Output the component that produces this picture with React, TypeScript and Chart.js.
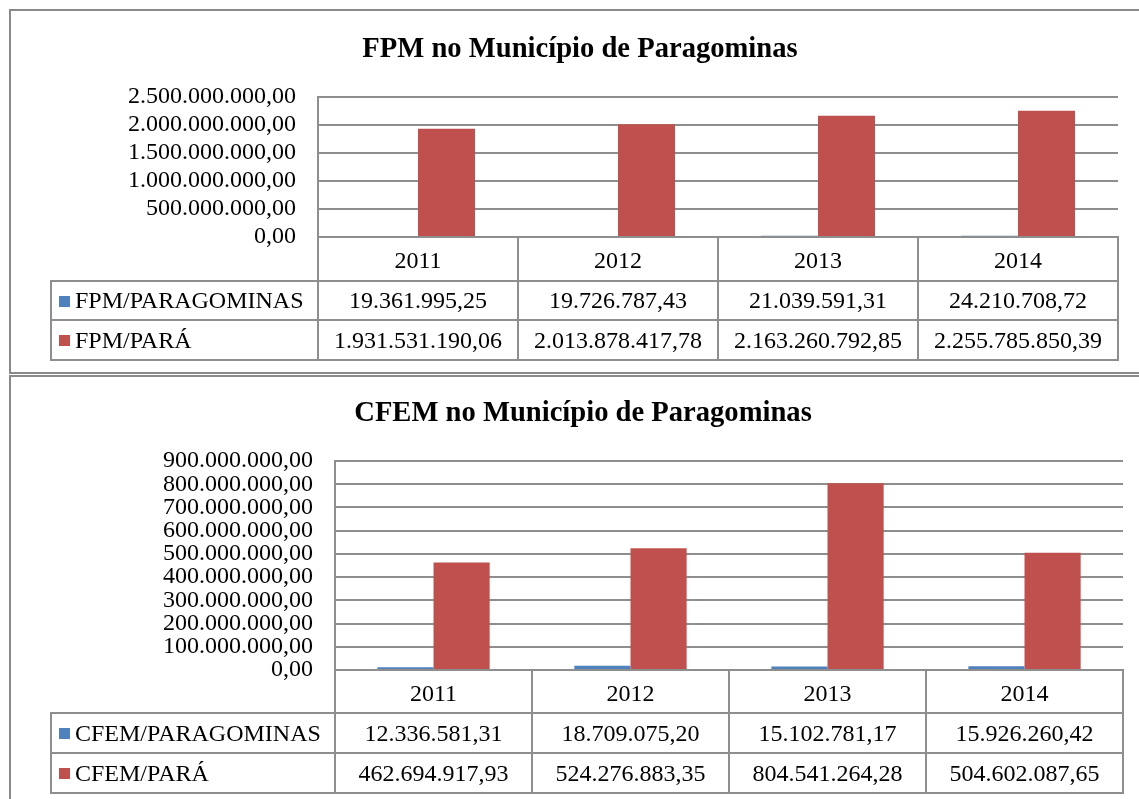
import React, { useEffect, useRef } from 'react';
import { Chart, registerables } from 'chart.js';

Chart.register(...registerables);

// ---------- DATA ----------
const YEARS = ['2011', '2012', '2013', '2014'];

const FPM_TITLE = 'FPM no Município de Paragominas';
const FPM_SERIES = ['FPM/PARAGOMINAS', 'FPM/PARÁ'];
const FPM_PARAGOMINAS = [19361995.25, 19726787.43, 21039591.31, 24210708.72];
const FPM_PARA = [1931531190.06, 2013878417.78, 2163260792.85, 2255785850.39];
const FPM_Y_MAX = 2500000000;
const FPM_Y_STEP = 500000000;

const CFEM_TITLE = 'CFEM no Município de Paragominas';
const CFEM_SERIES = ['CFEM/PARAGOMINAS', 'CFEM/PARÁ'];
const CFEM_PARAGOMINAS = [12336581.31, 18709075.2, 15102781.17, 15926260.42];
const CFEM_PARA = [462694917.93, 524276883.35, 804541264.28, 504602087.65];
const CFEM_Y_MAX = 900000000;
const CFEM_Y_STEP = 100000000;

const SERIES_COLORS = ['#4F81BD', '#C0504D'];

// ---------- STYLE ----------
const FONT = "'Liberation Serif', 'Times New Roman', serif";
const LINE = '#8e8e8e';

function fmtBR(n: number): string {
  const [i, d] = Math.abs(n).toFixed(2).split('.');
  const int = i.replace(/\B(?=(\d{3})+(?!\d))/g, '.');
  return (n < 0 ? '-' : '') + int + ',' + d;
}

const tablePlugin = {
  id: 'dataTable',
  afterDraw(chart: any, _args: any, opts: any) {
    const { ctx, chartArea } = chart;
    const x = chart.scales.x;
    const labels: string[] = chart.data.labels;
    const n = labels.length;
    const left = x.left;
    const right = x.right;
    const colW = (right - left) / n;
    const top = chartArea.bottom;
    const r1 = top + opts.headerH;
    const r2 = r1 + opts.rowH[0];
    const bot = r2 + opts.rowH[1];
    const lgLeft = opts.legendLeft;

    const line = (x1: number, y1: number, x2: number, y2: number) => {
      ctx.beginPath();
      ctx.moveTo(Math.round(x1), Math.round(y1));
      ctx.lineTo(Math.round(x2), Math.round(y2));
      ctx.stroke();
    };

    ctx.save();
    ctx.strokeStyle = LINE;
    ctx.lineWidth = 2;
    ctx.lineCap = 'square';
    line(left, top, right, top);
    line(lgLeft, r1, right, r1);
    line(lgLeft, r2, right, r2);
    line(lgLeft, bot, right, bot);
    for (let i = 0; i <= n; i++) {
      const xx = left + i * colW;
      line(xx, top, xx, bot);
    }
    line(lgLeft, r1, lgLeft, bot);

    ctx.fillStyle = '#000';
    ctx.font = `24px ${FONT}`;
    ctx.textBaseline = 'alphabetic';
    ctx.textAlign = 'center';
    for (let i = 0; i < n; i++) {
      ctx.fillText(labels[i], left + (i + 0.5) * colW, top + opts.headerH / 2 + 9);
    }
    const rowTops = [r1, r2];
    chart.data.datasets.forEach((ds: any, d: number) => {
      const cy = rowTops[d] + opts.rowH[d] / 2;
      ctx.textAlign = 'center';
      ctx.fillStyle = '#000';
      for (let i = 0; i < n; i++) {
        ctx.fillText(fmtBR(ds.data[i]), left + (i + 0.5) * colW, cy + 7.5);
      }
      ctx.fillStyle = ds.backgroundColor;
      ctx.fillRect(lgLeft + 8, Math.round(cy - 5), 11, 11);
      ctx.fillStyle = '#000';
      ctx.textAlign = 'left';
      ctx.fillText(ds.label, lgLeft + 24, cy + 7.5);
    });
    ctx.restore();
  },
};

type BlockProps = {
  title: string;
  series: string[];
  values: number[][];
  yMax: number;
  yStep: number;
  width: number;
  height: number;
  titleCenterX: number;
  plotLeft: number;
  plotRight: number;
  plotBottom: number;
  titlePadTop: number;
  titlePadBottom: number;
  headerH: number;
  rowH: number[];
  legendLeft: number;
};

function ChartBlock(p: BlockProps) {
  const ref = useRef<HTMLCanvasElement | null>(null);
  useEffect(() => {
    if (!ref.current) return;
    const padRight = p.width - p.plotRight;
    const padLeft = 2 * p.titleCenterX - p.plotRight;
    const chart = new Chart(ref.current, {
      type: 'bar',
      data: {
        labels: YEARS,
        datasets: p.series.map((s, i) => ({
          label: s,
          data: p.values[i],
          backgroundColor: SERIES_COLORS[i],
          borderWidth: 0,
          categoryPercentage: 0.57,
          barPercentage: 1.0,
        })),
      },
      plugins: [tablePlugin],
      options: {
        responsive: false,
        animation: false,
        devicePixelRatio: 1,
        layout: { padding: { left: padLeft, top: 0, bottom: 0, right: padRight } },
        plugins: {
          legend: { display: false },
          tooltip: { enabled: false },
          title: {
            display: true,
            text: p.title,
            color: '#000',
            font: { family: FONT, size: 28.6, weight: 'bold', lineHeight: 1.2 },
            padding: { top: p.titlePadTop, bottom: p.titlePadBottom },
          },
          dataTable: { headerH: p.headerH, rowH: p.rowH, legendLeft: p.legendLeft },
        } as any,
        scales: {
          x: {
            type: 'category',
            offset: true,
            grid: { display: false },
            border: { display: false },
            ticks: { display: false },
            afterFit: (s: any) => {
              s.height = p.height - p.plotBottom;
            },
          },
          y: {
            min: 0,
            max: p.yMax,
            grid: { color: LINE, lineWidth: 2, drawTicks: false },
            border: { display: true, color: LINE, width: 2 },
            ticks: {
              stepSize: p.yStep,
              autoSkip: false,
              padding: 22,
              color: '#000',
              font: { family: FONT, size: 24 },
              callback: (v: any) => fmtBR(Number(v)),
            },
            afterFit: (s: any) => {
              s.width = p.plotLeft - padLeft;
            },
          },
        },
      } as any,
    });
    return () => chart.destroy();
  }, []);
  return (
    <canvas
      ref={ref}
      width={p.width}
      height={p.height}
      style={{ position: 'absolute', left: 0, top: 0, width: p.width, height: p.height }}
    />
  );
}

export default function App() {
  const boxStyle: React.CSSProperties = {
    position: 'absolute',
    left: 9,
    width: 1160,
    border: '2px solid #8a8a8a',
    boxSizing: 'border-box',
    background: '#fff',
  };
  return (
    <div
      style={{
        position: 'fixed',
        left: 0,
        top: 0,
        width: 1139,
        height: 799,
        overflow: 'hidden',
        background: '#fff',
      }}
    >
      <div style={{ ...boxStyle, top: 9, height: 365 }}>
        <ChartBlock
          title={FPM_TITLE}
          series={FPM_SERIES}
          values={[FPM_PARAGOMINAS, FPM_PARA]}
          yMax={FPM_Y_MAX}
          yStep={FPM_Y_STEP}
          width={1140}
          height={361}
          titleCenterX={569}
          plotLeft={307}
          plotRight={1107}
          plotBottom={226}
          titlePadTop={21.5}
          titlePadBottom={30.2}
          headerH={44}
          rowH={[39, 40]}
          legendLeft={40}
        />
      </div>
      <div style={{ ...boxStyle, top: 375, height: 450 }}>
        <ChartBlock
          title={CFEM_TITLE}
          series={CFEM_SERIES}
          values={[CFEM_PARAGOMINAS, CFEM_PARA]}
          yMax={CFEM_Y_MAX}
          yStep={CFEM_Y_STEP}
          width={1140}
          height={422}
          titleCenterX={572}
          plotLeft={324}
          plotRight={1112}
          plotBottom={293}
          titlePadTop={19.7}
          titlePadBottom={30}
          headerH={43}
          rowH={[40, 40]}
          legendLeft={40}
        />
      </div>
    </div>
  );
}
